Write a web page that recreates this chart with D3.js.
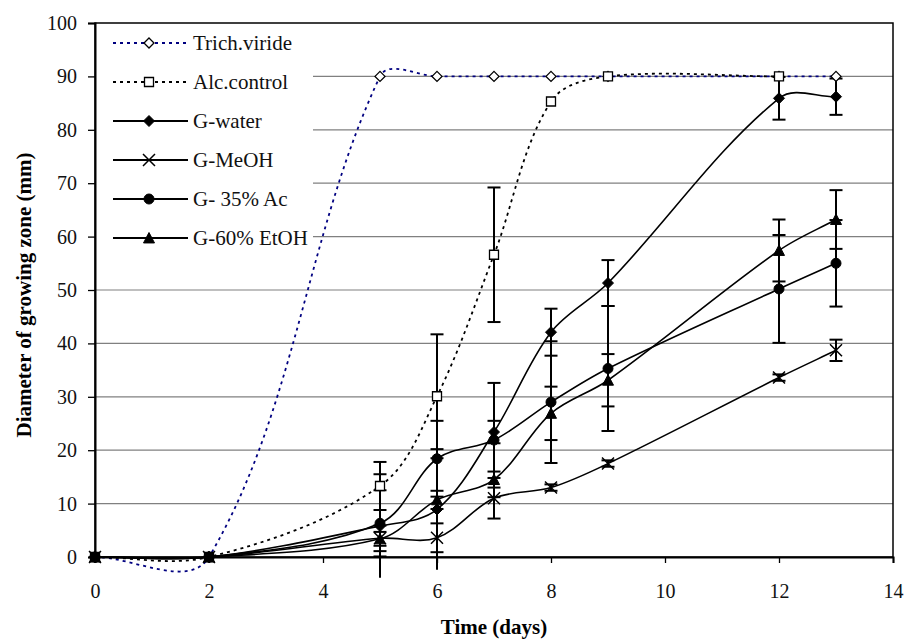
<!DOCTYPE html>
<meta charset="utf-8">
<style>
  body { margin: 0; background: #fff; }
  text { font-family: "Liberation Serif", "Times New Roman", serif; }
</style>
<script src="https://d3js.org/d3.v7.min.js"></script>
<div id="my_dataviz"></div>
<script>

// data
var days = [0, 2, 5, 6, 7, 8, 9, 12, 13];
var trichViride = [0, 0, 90, 90, 90, 90, 90, 90, 90];
var alcControl  = [0, 0, 13.3, 30.1, 56.6, 85.3, 90, 90, null];
var gWater      = [0, 0, 5.8, 8.9, 23.4, 42.1, 51.3, 85.9, 86.2];
var gMeOH       = [0, 0, 3.5, 3.6, 11, 13, 17.5, 33.6, 38.7];
var gAc35       = [0, 0, 6.3, 18.4, 21.9, 29, 35.3, 50.2, 55];
var gEtOH60     = [0, 0, 3.4, 10.7, 14.5, 26.9, 33.1, 57.4, 63.2];

// error bar half-widths
var alcErr   = [0, 0, 4.5, 11.6, 12.6, 0, 0, 0, null];
var waterErr = [0, 0, 9.7, 11.3, 2.1, 4.4, 4.3, 4, 3.4];
var meohErr  = [0, 0, 2.4, 2.7, 3.8, 0.6, 0.6, 0.6, 2];
var ac35Err  = [0, 0, 6.2, 7.1, 10.7, 11.4, 11.7, 10.1, 8.1];
var etohErr  = [0, 0, 1.3, 1.7, 1.5, 5, 4.9, 5.8, 5.5];

var xTicks = [0, 2, 4, 6, 8, 10, 12, 14];
var yTicks = [0, 10, 20, 30, 40, 50, 60, 70, 80, 90, 100];

var seriesNames = ["Trich.viride", "Alc.control", "G-water", "G-MeOH", "G- 35% Ac", "G-60% EtOH"];
var seriesValues = [trichViride, alcControl, gWater, gMeOH, gAc35, gEtOH60];
var seriesErrors = [null, alcErr, waterErr, meohErr, ac35Err, etohErr];

// marker shapes
var diamond = { draw: function(c, s) { var r = Math.sqrt(s) / 2; c.moveTo(0, -r); c.lineTo(r, 0); c.lineTo(0, r); c.lineTo(-r, 0); c.closePath(); } };
var square = { draw: function(c, s) { var r = Math.sqrt(s) / 2; c.rect(-r, -r, 2 * r, 2 * r); } };
var circle = { draw: function(c, s) { var r = Math.sqrt(s) / 2; c.moveTo(r, 0); c.arc(0, 0, r, 0, 2 * Math.PI); } };
var triangle = { draw: function(c, s) { var r = Math.sqrt(s) / 2; c.moveTo(0, -r); c.lineTo(r, r * 0.9); c.lineTo(-r, r * 0.9); c.closePath(); } };
var cross = { draw: function(c, s) { var r = Math.sqrt(s) / 2; c.moveTo(-r, -r); c.lineTo(r, r); c.moveTo(r, -r); c.lineTo(-r, r); } };

var styles = [
  { stroke: "#000080", dash: "3,4", shape: diamond, size: 100, fill: "#fff", mstroke: "#000", mwidth: 1.3 },
  { stroke: "#000", dash: "3,4", shape: square, size: 81, fill: "#fff", mstroke: "#000", mwidth: 1.3 },
  { stroke: "#000", dash: null, shape: diamond, size: 121, fill: "#000", mstroke: "#000", mwidth: 1 },
  { stroke: "#000", dash: null, shape: cross, size: 144, fill: "none", mstroke: "#000", mwidth: 1.5 },
  { stroke: "#000", dash: null, shape: circle, size: 100, fill: "#000", mstroke: "#000", mwidth: 1 },
  { stroke: "#000", dash: null, shape: triangle, size: 121, fill: "#000", mstroke: "#000", mwidth: 1 }
];

var W = 905, H = 640;
var svg = d3.select("#my_dataviz").append("svg").attr("width", W).attr("height", H);

var x = d3.scaleLinear().domain([0, 14]).range([95, 893]);
var y = d3.scaleLinear().domain([0, 100]).range([557, 23]);

// spreadsheet-style smoothed line: tangent along neighbours, handle = segment length / 3
function smoothPath(pts) {
  var p = pts.map(function(d) { return [x(d.t), y(d.v)]; });
  var path = d3.path();
  path.moveTo(p[0][0], p[0][1]);
  function tangent(i) {
    var a = p[Math.max(i - 1, 0)], b = p[Math.min(i + 1, p.length - 1)];
    var dx = b[0] - a[0], dy = b[1] - a[1], l = Math.hypot(dx, dy) || 1;
    return [dx / l, dy / l];
  }
  for (var i = 0; i < p.length - 1; i++) {
    var a = p[i], b = p[i + 1];
    var seg = Math.hypot(b[0] - a[0], b[1] - a[1]) / 3;
    var ta = tangent(i), tb = tangent(i + 1);
    path.bezierCurveTo(a[0] + ta[0] * seg, a[1] + ta[1] * seg,
                       b[0] - tb[0] * seg, b[1] - tb[1] * seg, b[0], b[1]);
  }
  return path.toString();
}

// gridlines
svg.append("g").selectAll("line").data(yTicks.filter(function(d) { return d > 0 && d < 100; }))
  .enter().append("line")
  .attr("x1", x(0)).attr("x2", x(14))
  .attr("y1", function(d) { return y(d); }).attr("y2", function(d) { return y(d); })
  .attr("stroke", "#808080").attr("stroke-width", 1.2);

var layers = seriesValues.map(function(vals, i) {
  return days.map(function(t, j) {
    return { t: t, v: vals[j], e: seriesErrors[i] ? seriesErrors[i][j] : 0 };
  }).filter(function(d) { return d.v != null; });
});

// lines
layers.forEach(function(pts, i) {
  svg.append("path").datum(pts).attr("d", smoothPath)
    .attr("fill", "none").attr("stroke", styles[i].stroke)
    .attr("stroke-width", styles[i].dash ? 1.8 : 1.6)
    .attr("stroke-dasharray", styles[i].dash);
});

// error bars
layers.forEach(function(pts, i) {
  var g = svg.append("g").attr("stroke", "#000").attr("stroke-width", 2);
  pts.filter(function(d) { return d.e > 0; }).forEach(function(d) {
    var cx = x(d.t), lo = d.v - d.e, hi = d.v + d.e;
    g.append("line").attr("x1", cx).attr("x2", cx).attr("y1", y(lo)).attr("y2", y(hi));
    g.append("line").attr("x1", cx - 6.5).attr("x2", cx + 6.5).attr("y1", y(hi)).attr("y2", y(hi));
    if (lo >= 0) {
      g.append("line").attr("x1", cx - 6.5).attr("x2", cx + 6.5).attr("y1", y(lo)).attr("y2", y(lo));
    }
  });
});

// markers
layers.forEach(function(pts, i) {
  var st = styles[i];
  svg.append("g").selectAll("path").data(pts).enter().append("path")
    .attr("transform", function(d) { return "translate(" + x(d.t) + "," + y(d.v) + ")"; })
    .attr("d", d3.symbol().type(st.shape).size(st.size))
    .attr("fill", st.fill).attr("stroke", st.mstroke).attr("stroke-width", st.mwidth);
});

// legend
var legend = svg.append("g");
legend.append("rect").attr("x", x(0) + 1).attr("y", y(100) + 1)
  .attr("width", 217).attr("height", 232).attr("fill", "#fff");
seriesNames.forEach(function(name, i) {
  var ly = 43 + i * 39, st = styles[i];
  legend.append("line").attr("x1", 113).attr("x2", 188).attr("y1", ly).attr("y2", ly)
    .attr("stroke", st.stroke).attr("stroke-width", 1.8)
    .attr("stroke-dasharray", st.dash);
  legend.append("path").attr("transform", "translate(149," + ly + ")")
    .attr("d", d3.symbol().type(st.shape).size(st.size))
    .attr("fill", st.fill).attr("stroke", st.mstroke).attr("stroke-width", st.mwidth);
  legend.append("text").attr("x", 193).attr("y", ly).attr("dy", "0.35em")
    .style("font-size", "21px").attr("fill", "#111").text(name);
});

// plot border on top
svg.append("rect").attr("x", x(0)).attr("y", y(100))
  .attr("width", x(14) - x(0)).attr("height", y(0) - y(100))
  .attr("fill", "none").attr("stroke", "#000").attr("stroke-width", 1.5);

// axes
var yAxis = svg.append("g").attr("transform", "translate(" + x(0) + ",0)")
  .call(d3.axisLeft(y).tickValues(yTicks).tickSize(7).tickPadding(11));
var xAxis = svg.append("g").attr("transform", "translate(0," + y(0) + ")")
  .call(d3.axisBottom(x).tickValues(xTicks).tickSize(6).tickPadding(21));
[xAxis, yAxis].forEach(function(a) {
  a.select(".domain").attr("stroke-width", 2);
  a.selectAll(".tick line").attr("stroke-width", 1.3);
  a.selectAll("text").style("font-family", "Liberation Serif").style("font-size", "20px").attr("fill", "#111");
});

// axis titles
svg.append("text").attr("x", 494).attr("y", 634).attr("text-anchor", "middle")
  .style("font-size", "21px").style("font-weight", "bold").text("Time (days)");
svg.append("text").attr("transform", "translate(31,295) rotate(-90)").attr("text-anchor", "middle")
  .style("font-size", "21px").style("font-weight", "bold").text("Diameter of growing zone (mm)");

</script>
